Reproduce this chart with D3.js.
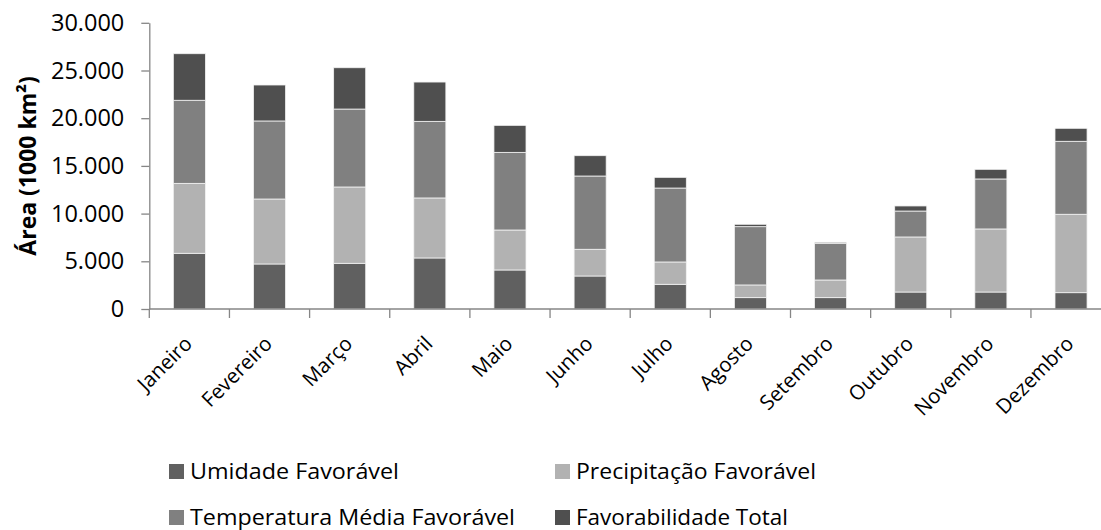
<!DOCTYPE html>
<html>
<head>
<meta charset="utf-8">
<script src="https://cdn.jsdelivr.net/npm/d3@7/dist/d3.min.js"></script>
<style>
  html, body { margin: 0; padding: 0; background: #fff; }
  svg { display: block; }
  text { font-family: "Open Sans", "Noto Sans", sans-serif; fill: #000; }
</style>
</head>
<body>
<svg id="chart" width="1101" height="530"></svg>
<script>
// ---- data ----
const months = ["Janeiro","Fevereiro","Março","Abril","Maio","Junho","Julho","Agosto","Setembro","Outubro","Novembro","Dezembro"];
const seriesNames = ["Umidade Favorável","Precipitação Favorável","Temperatura Média Favorável","Favorabilidade Total"];
const umidade      = [5840, 4720, 4790, 5350, 4090, 3460, 2590, 1190, 1190, 1780, 1780, 1710];
const precipitacao = [7330, 6810, 8000, 6290, 4190, 2800, 2340, 1330, 1850, 5770, 6610, 8220];
const temperatura  = [8710, 8180, 8170, 8030, 8140, 7680, 7750, 6110, 3840, 2720, 5240, 7650];
const total        = [4880, 3770, 4330, 4120, 2830, 2130, 1120,  250,  110,  530, 1010, 1360];
const yTicks = [0, 5000, 10000, 15000, 20000, 25000, 30000];
const colors = ["#606060", "#b2b2b2", "#808080", "#4f4f4f"];

// ---- layout ----
const svg = d3.select("#chart");
const x0 = 149.3, band = 80.15, yZero = 309, yTop = 22.8;
const axisColor = "#868686";

const x = d3.scaleBand().domain(months).range([x0, x0 + band * months.length]).paddingInner(0.6).paddingOuter(0.3);
const y = d3.scaleLinear().domain([0, 30000]).range([yZero, yTop]);

const table = months.map((m, i) => ({
  month: m,
  [seriesNames[0]]: umidade[i],
  [seriesNames[1]]: precipitacao[i],
  [seriesNames[2]]: temperatura[i],
  [seriesNames[3]]: total[i]
}));
const stacked = d3.stack().keys(seriesNames)(table);

const loc = d3.formatLocale({decimal: ",", thousands: ".", grouping: [3], currency: ["R$", ""]});
const fmt = loc.format(",d");

// bars
svg.append("g").selectAll("g").data(stacked).join("g")
  .attr("fill", (d, i) => colors[i])
  .selectAll("rect").data(d => d).join("rect")
  .attr("x", d => x(d.data.month))
  .attr("width", x.bandwidth())
  .attr("y", d => y(d[1]))
  .attr("height", d => y(d[0]) - y(d[1]))
  .attr("stroke", "#f2f2f2")
  .attr("stroke-width", 0.8);

// y axis
const yAxis = svg.append("g").attr("transform", `translate(${x0},0)`)
  .call(d3.axisLeft(y).tickValues(yTicks).tickFormat(fmt).tickSize(8).tickSizeOuter(0).tickPadding(17));
yAxis.select(".domain").attr("stroke", axisColor).attr("stroke-width", 1.3);
yAxis.selectAll(".tick line").attr("stroke", axisColor).attr("stroke-width", 1.3);
yAxis.selectAll(".tick text").attr("font-size", 23.5).attr("font-family", "Open Sans").attr("fill", "#000");

// x axis (ticks at category boundaries)
const xAxisG = svg.append("g").attr("transform", `translate(0,${yZero})`);
xAxisG.append("line")
  .attr("x1", x0).attr("x2", x0 + band * months.length)
  .attr("stroke", axisColor).attr("stroke-width", 1.3);
const boundaries = d3.range(months.length + 1).map(i => x0 + i * band);
xAxisG.selectAll("line.tk").data(boundaries).join("line").attr("class", "tk")
  .attr("x1", d => d).attr("x2", d => d).attr("y1", 0).attr("y2", 9)
  .attr("stroke", axisColor).attr("stroke-width", 1.3);
xAxisG.selectAll("text").data(months).join("text")
  .attr("transform", d => `translate(${x(d) + x.bandwidth() / 2 + 4},${36}) rotate(-45)`)
  .attr("text-anchor", "end")
  .attr("font-size", 20.5)
  .text(d => d);

// y title
svg.append("text")
  .attr("transform", `translate(36,${(yZero + yTop) / 2}) rotate(-90)`)
  .attr("text-anchor", "middle")
  .attr("font-size", 23)
  .attr("font-weight", "bold")
  .text("Área (1000 km²)");

// legend
const legendPos = [[169, 478.5], [555, 478.5], [169, 524.5], [555, 524.5]];
const legendWidths = [209, 240, 325, 212];
const lg = svg.append("g");
seriesNames.forEach((name, i) => {
  const [lx, ly] = legendPos[i];
  lg.append("rect").attr("x", lx).attr("y", ly - 14.5).attr("width", 15).attr("height", 15).attr("fill", colors[i]);
  lg.append("text").attr("x", lx + 21).attr("y", ly)
    .attr("font-size", 21.5)
    .attr("textLength", legendWidths[i]).attr("lengthAdjust", "spacingAndGlyphs")
    .text(name);
});
</script>
</body>
</html>
